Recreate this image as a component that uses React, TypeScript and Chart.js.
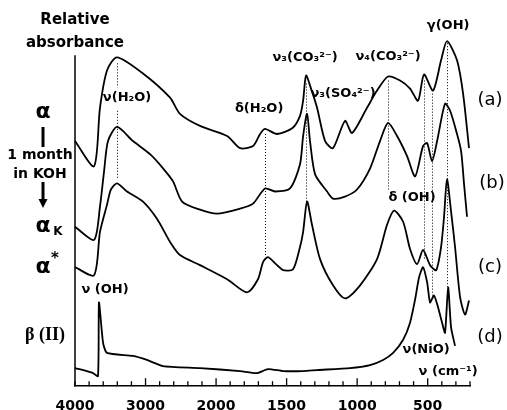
import React, { useEffect, useRef } from "react";
import { Chart, registerables } from "chart.js";
Chart.register(...registerables);

// Wavenumber axis (cm-1): scale changes at 2000 cm-1 (twice as expanded below 2000)
const majorTicks = [4000, 3000, 2000, 1500, 1000, 500];
const axisEnd = 200;

// (a) alpha
const waveA = [4000, 3730, 3646, 3546, 3404, 3036, 2652, 2512, 2228, 1922, 1830, 1738, 1688, 1653, 1568, 1458, 1405, 1383, 1362, 1327, 1284, 1227, 1171, 1086, 1036, 930, 859, 781, 696, 625, 568, 526, 462, 405, 363, 292, 249, 207];
const absA = [243, 218, 276, 313, 326, 310, 286, 270, 258, 248, 236, 238, 250, 255, 250, 256, 268, 283, 308, 295, 276, 243, 236, 263, 251, 276, 293, 307, 303, 295, 283, 309, 293, 323, 342, 323, 290, 236];

// (b) alpha_K
const waveB = [4000, 3730, 3646, 3588, 3532, 3404, 3178, 2936, 2752, 2610, 2482, 2228, 1993, 1830, 1738, 1653, 1582, 1476, 1405, 1383, 1355, 1334, 1298, 1213, 1171, 1086, 1001, 908, 838, 781, 717, 646, 589, 533, 504, 469, 433, 377, 341, 292, 263, 242, 221];
const absB = [158, 145, 178, 213, 243, 257, 243, 230, 216, 203, 183, 175, 171, 176, 181, 196, 193, 196, 220, 248, 270, 243, 210, 193, 186, 188, 195, 216, 243, 261, 248, 228, 208, 238, 241, 223, 243, 280, 273, 250, 233, 200, 168];

// (c) alpha*
const waveC = [4000, 3730, 3646, 3546, 3490, 3404, 3262, 3036, 2838, 2652, 2512, 2228, 1922, 1781, 1703, 1667, 1632, 1575, 1525, 1454, 1405, 1383, 1355, 1320, 1263, 1171, 1086, 979, 859, 788, 738, 674, 625, 575, 533, 483, 440, 405, 384, 363, 334, 306, 270, 235, 207];
const absC = [118, 110, 153, 180, 195, 201, 193, 183, 166, 143, 130, 120, 106, 93, 106, 123, 128, 121, 115, 116, 138, 153, 183, 160, 126, 100, 87, 100, 126, 160, 174, 163, 136, 121, 135, 120, 115, 138, 168, 205, 173, 138, 88, 71, 85];

// (d) beta(II)
const waveD = [4000, 3744, 3674, 3660, 3602, 3546, 3178, 2980, 2752, 2228, 1830, 1710, 1632, 1525, 1383, 1284, 1050, 908, 816, 745, 674, 625, 589, 561, 533, 504, 483, 455, 426, 398, 377, 355, 334, 306];
const absD = [18, 13, 10, 83, 43, 33, 30, 26, 20, 18, 15, 13, 17, 15, 15, 16, 18, 21, 26, 33, 46, 63, 86, 108, 118, 103, 83, 90, 78, 63, 53, 98, 58, 40];

// Dotted assignment lines: wavenumber, upper level, lower level
const dotNu = [3404, 3404, 1653, 1362, 781, 526, 469, 360];
const dotTop = [320, 273, 250, 300, 303, 303, 290, 340];
const dotBottom = [296, 206, 128, 183, 193, 126, 90, 96];

// Band labels: text, wavenumber, level
const bandText = ["ν(H₂O)", "δ(H₂O)", "ν₃(CO₃²⁻)", "ν₃(SO₄²⁻)", "ν₄(CO₃²⁻)", "γ(OH)", "δ (OH)", "ν(NiO)", "ν (cm⁻¹)", "ν (OH)"];
const bandNu = [3262, 1695, 1369, 1100, 781, 355, 611, 511, 355, 3574];
const bandLevel = [286, 275, 326, 290, 327, 357, 187, 36, 14, 96];

const toAxis = (nu: number) => (nu >= 2000 ? (4000 - nu) / 2 : 1000 + (2000 - nu));
const fromAxis = (u: number) => (u <= 1000 ? 4000 - 2 * u : 3000 - u);

const pts = (w: number[], a: number[]) => w.map((nu, i) => ({ x: toAxis(nu), y: a[i] }));

const FONT = "'DejaVu Sans', sans-serif";

const decorPlugin = {
  id: "decor",
  afterDraw(chart: any) {
    const { ctx, chartArea, scales } = chart;
    const xs = scales.x;
    const ys = scales.y;
    const X = (nu: number) => xs.getPixelForValue(toAxis(nu));
    const Y = (v: number) => ys.getPixelForValue(v);
    ctx.save();
    ctx.strokeStyle = "#000";
    ctx.fillStyle = "#000";

    // left axis line
    ctx.lineWidth = 1.5;
    ctx.beginPath();
    ctx.moveTo(chartArea.left, Y(328));
    ctx.lineTo(chartArea.left, chartArea.bottom);
    ctx.stroke();

    // inward tick marks
    const minor: number[] = [];
    for (let v = 4000; v > 2000; v -= 200) minor.push(v);
    for (let v = 2000; v >= axisEnd; v -= 100) minor.push(v);
    ctx.lineWidth = 1.3;
    minor.forEach((v) => {
      const big = v % 500 === 0 && v !== 4000 && v <= 3000;
      const len = big ? 8 : 5;
      const x = X(v);
      ctx.beginPath();
      ctx.moveTo(x, chartArea.bottom);
      ctx.lineTo(x, chartArea.bottom - len);
      ctx.stroke();
    });

    // dotted lines
    ctx.lineWidth = 1;
    ctx.setLineDash([1, 2]);
    dotNu.forEach((nu, i) => {
      const x = Math.round(X(nu)) + 0.5;
      ctx.beginPath();
      ctx.moveTo(x, Y(dotTop[i]));
      ctx.lineTo(x, Y(dotBottom[i]));
      ctx.stroke();
    });
    ctx.setLineDash([]);

    // band labels
    ctx.textAlign = "center";
    ctx.textBaseline = "middle";
    ctx.font = `bold 13px ${FONT}`;
    bandText.forEach((t, i) => {
      ctx.fillText(t, X(bandNu[i]), Y(bandLevel[i]));
    });

    // curve letters
    ctx.font = `18px ${FONT}`;
    ctx.fillText("(a)", 490, 100);
    ctx.fillText("(b)", 492, 183);
    ctx.fillText("(c)", 490, 267);
    ctx.fillText("(d)", 490, 337);

    // left side labels
    ctx.font = `bold 15px ${FONT}`;
    ctx.fillText("Relative", 75, 20);
    ctx.fillText("absorbance", 75, 43);
    ctx.font = `bold 14px ${FONT}`;
    ctx.fillText("1 month", 40, 155);
    ctx.fillText("in KOH", 40, 174);
    ctx.font = `bold 22px ${FONT}`;
    ctx.fillText("α", 43, 112);
    ctx.fillText("α", 43, 226);
    ctx.fillText("α", 43, 267);
    ctx.font = `bold 12px ${FONT}`;
    ctx.fillText("K", 58, 232);
    ctx.font = `bold 15px ${FONT}`;
    ctx.fillText("*", 55, 259);
    ctx.font = `bold 18px 'Liberation Serif', serif`;
    ctx.fillText("β (II)", 45, 335);

    ctx.lineWidth = 3;
    ctx.beginPath();
    ctx.moveTo(43, 127);
    ctx.lineTo(43, 147);
    ctx.moveTo(43, 182);
    ctx.lineTo(43, 200);
    ctx.stroke();
    ctx.beginPath();
    ctx.moveTo(38.5, 199);
    ctx.lineTo(47.5, 199);
    ctx.lineTo(43, 208);
    ctx.closePath();
    ctx.fill();
    ctx.restore();
  },
};

export default function App() {
  const ref = useRef<HTMLCanvasElement | null>(null);
  useEffect(() => {
    if (!ref.current) return;
    const ds = (w: number[], a: number[], t: number) => ({
      data: pts(w, a),
      borderColor: "#000",
      borderWidth: 1.8,
      pointRadius: 0,
      fill: false,
      tension: t,
      clip: false as any,
    });
    const chart = new Chart(ref.current, {
      type: "line",
      data: {
        datasets: [ds(waveA, absA, 0.25), ds(waveB, absB, 0.25), ds(waveC, absC, 0.25), ds(waveD, absD, 0.2)],
      },
      options: {
        animation: false,
        responsive: false,
        layout: { padding: { top: 20, left: 75, right: 37, bottom: -17 } },
        plugins: { legend: { display: false }, tooltip: { enabled: false } },
        scales: {
          x: {
            type: "linear",
            min: 0,
            max: toAxis(axisEnd),
            grid: { display: false, drawTicks: false },
            border: { display: true, color: "#000", width: 1.5 },
            afterBuildTicks: (scale: any) => {
              scale.ticks = majorTicks.map((v) => ({ value: toAxis(v) }));
            },
            ticks: {
              autoSkip: false,
              maxRotation: 0,
              padding: 12,
              color: "#000",
              font: { family: "'DejaVu Sans', sans-serif", size: 14, weight: "bold", lineHeight: 1.2 },
              callback: (value: any) => String(fromAxis(Number(value))),
            },
          },
          y: { display: false, min: 0, max: 363 },
        },
      },
      plugins: [decorPlugin],
    });
    return () => chart.destroy();
  }, []);
  return (
    <div style={{ position: "fixed", left: 0, top: 0, width: 507, height: 410, background: "#fff" }}>
      <canvas ref={ref} width={507} height={410} />
    </div>
  );
}
